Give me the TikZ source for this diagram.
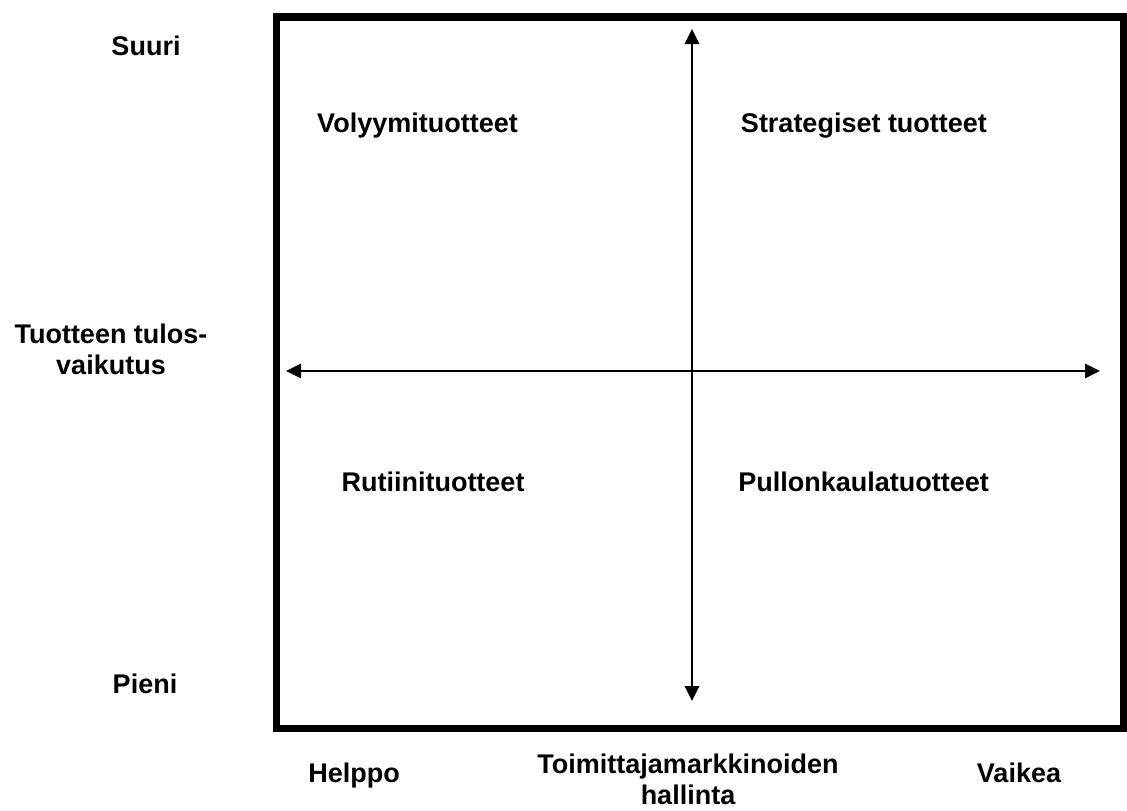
\documentclass[tikz,border=0pt]{standalone}
\usepackage{fontspec}
\setmainfont{Liberation Sans}
\usetikzlibrary{arrows.meta}

\begin{document}
\begin{tikzpicture}[x=1pt, y=-1pt, >={Triangle[length=15pt, width=14pt]},
    font=\fontsize{27pt}{31pt}\selectfont\bfseries,
    lbl/.style={inner sep=0pt, anchor=base},
    twoline/.style={inner sep=0pt, anchor=north, align=center},
    axis/.style={<->, line width=2.7pt}]
  \useasboundingbox (0,0) rectangle (1127,811);

  % frame
  \draw[line width=7.5pt] (276.5,17) rectangle (1123.5,728.5);

  % axes
  \coordinate (ytop) at (692,29);
  \coordinate (ybot) at (692,701);
  \coordinate (xleft) at (286,371);
  \coordinate (xright) at (1100,371);
  \draw[axis] (ybot) -- (ytop);
  \draw[axis] (xleft) -- (xright);

  % vertical scale
  \node[lbl] (suuri) at (146,55) {Suuri};
  \node[twoline] (tulos) at (111,324) {Tuotteen tulos-\\vaikutus};
  \node[lbl] (pieni) at (145,693) {Pieni};

  % quadrants
  \node[lbl] (volyymi) at (417.5,132) {Volyymituotteet};
  \node[lbl] (strateg) at (864,132) {Strategiset tuotteet};
  \node[lbl] (rutiini) at (433,491.5) {Rutiinituotteet};
  \node[lbl] (pullon) at (863.5,491.5) {Pullonkaulatuotteet};

  % horizontal scale
  \node[lbl] (helppo) at (354,782) {Helppo};
  \node[twoline] (hallinta) at (688,754) {Toimittajamarkkinoiden\\hallinta};
  \node[lbl] (vaikea) at (1019,782) {Vaikea};
\end{tikzpicture}
\end{document}
